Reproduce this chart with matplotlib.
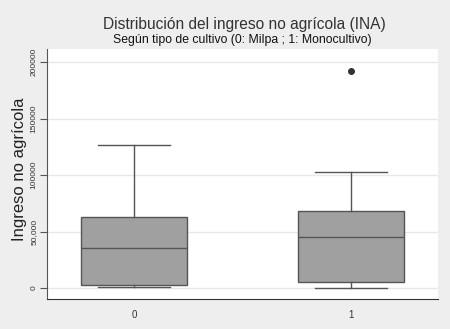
import matplotlib
matplotlib.use("Agg")
import matplotlib.pyplot as plt
from matplotlib.ticker import FixedLocator

categories = ["0", "1"]
whislo = [600, 0]
q1 = [2650, 5600]
med = [35700, 44800]
q3 = [63100, 68400]
whishi = [126500, 102400]
fliers = [[], [192300]]

yticks = [0, 50000, 100000, 150000, 200000]
ytick_labels = ["0", "50,000", "100000", "150000", "200000"]

plt.rcParams['font.family'] = ['Liberation Sans', 'DejaVu Sans']

fig = plt.figure(figsize=(4.5, 3.29), dpi=100, facecolor='#eeeeee')
ax = fig.add_axes([47/450, 1-299/329, (438-47)/450, (299-49)/329])
ax.set_facecolor('white')

stats = []
for i in range(len(categories)):
    stats.append(dict(label=categories[i], whislo=whislo[i], q1=q1[i], med=med[i],
                      q3=q3[i], whishi=whishi[i], fliers=fliers[i]))

edge = '#555555'
ax.bxp(stats, positions=list(range(len(categories))), widths=0.49, patch_artist=True,
       boxprops=dict(facecolor='#a0a0a0', edgecolor=edge, linewidth=1.0),
       medianprops=dict(color=edge, linewidth=1.0),
       whiskerprops=dict(color=edge, linewidth=1.0),
       capprops=dict(color=edge, linewidth=1.0),
       capwidths=0.335,
       flierprops=dict(marker='o', markerfacecolor='#333333', markeredgecolor='#333333', markersize=4))

ax.set_xlim(-0.4, 1.4)
ax.set_ylim(-9700, 211500)
ax.yaxis.set_major_locator(FixedLocator(yticks))
ax.set_yticklabels(ytick_labels, rotation=90, va='center', fontsize=6, color='#333333')
ax.set_xticks(range(len(categories)))
ax.set_xticklabels(categories, fontsize=7, color='#333333')
ax.grid(axis='y', color='#e8e8e8', linewidth=1.0)
ax.set_axisbelow(True)
for s in ['top', 'right']:
    ax.spines[s].set_visible(False)
ax.spines['left'].set_color('#555555')
ax.spines['bottom'].set_color('#333333')
ax.tick_params(axis='y', length=5, color='#555555', width=0.8, pad=2)
ax.tick_params(axis='x', length=0, pad=8)

ax.set_ylabel("Ingreso no agrícola", fontsize=12, color='#222222')
ax.yaxis.set_label_coords(-0.051, 0.518)

fig.text(244/450, 1-24/329, "Distribución del ingreso no agrícola (INA)", ha='center', va='center',
         fontsize=11.2, color='#333333')
fig.text(242/450, 1-40/329, "Según tipo de cultivo (0: Milpa ; 1: Monocultivo)", ha='center', va='center',
         fontsize=8.8, color='#111111')

fig.savefig("out.png", dpi=100, facecolor=fig.get_facecolor())
